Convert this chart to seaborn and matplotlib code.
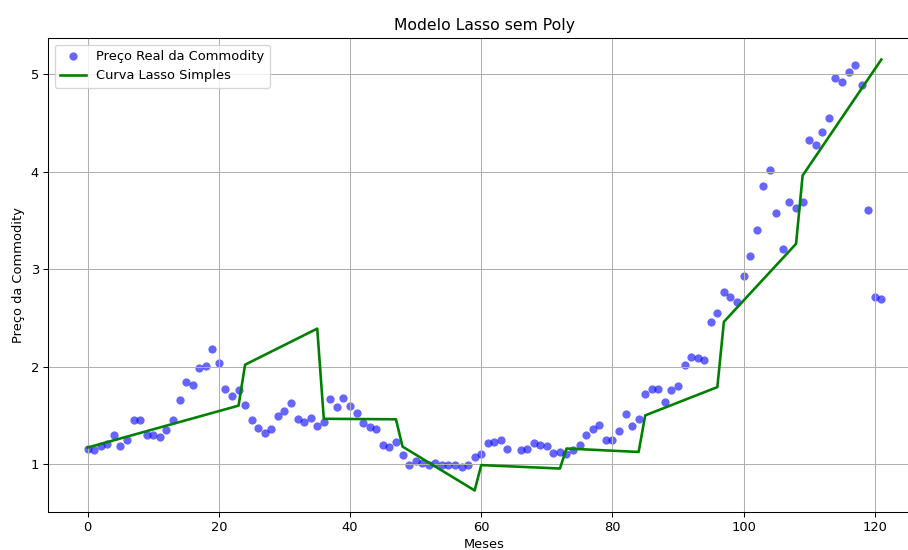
import matplotlib
matplotlib.use("Agg")
import matplotlib.pyplot as plt
import seaborn as sns
import numpy as np

months = list(range(0, 65)) + list(range(66, 122))
prices = [
    1.16, 1.15, 1.19, 1.21, 1.30, 1.19, 1.25, 1.455, 1.455, 1.30,
    1.30, 1.28, 1.35, 1.45, 1.66, 1.84, 1.81, 1.99, 2.01, 2.18,
    2.035, 1.77, 1.70, 1.76, 1.61, 1.45, 1.37, 1.32, 1.36, 1.49,
    1.55, 1.63, 1.465, 1.435, 1.475, 1.39, 1.435, 1.67, 1.59, 1.675,
    1.60, 1.52, 1.42, 1.38, 1.36, 1.20, 1.18, 1.23, 1.09, 0.99,
    1.03, 1.01, 0.99, 1.01, 0.99, 0.99, 0.99, 0.97, 0.99, 1.07,
    1.10, 1.22, 1.23, 1.25, 1.16,
    1.14, 1.16, 1.22, 1.20, 1.19, 1.11, 1.12, 1.10, 1.14,
    1.20, 1.30, 1.36, 1.40, 1.25, 1.25, 1.34, 1.51, 1.39, 1.465,
    1.72, 1.77, 1.77, 1.635, 1.765, 1.80, 2.02, 2.10, 2.09, 2.07,
    2.46, 2.55, 2.765, 2.71, 2.66, 2.93, 3.14, 3.40, 3.85, 4.02,
    3.58, 3.21, 3.69, 3.63, 3.69, 4.32, 4.27, 4.41, 4.55, 4.965,
    4.915, 5.02, 5.09, 4.89, 3.61, 2.71, 2.69,
]

lasso_x = [0, 23, 24, 35, 36, 47, 48, 59, 60, 72, 73, 84, 85, 96, 97, 108, 109, 121]
lasso_y = [1.17, 1.60, 2.02, 2.39, 1.465, 1.46, 1.18, 0.73, 0.99, 0.955,
           1.16, 1.125, 1.50, 1.79, 2.46, 3.26, 3.96, 5.15]

DPI = 94
fig = plt.figure(figsize=(908 / DPI, 550 / DPI), dpi=DPI)
ax = fig.add_axes([48 / 908, 1 - 512 / 550, 873 / 908, 474 / 550])

sns.scatterplot(x=months, y=prices, color="blue", alpha=0.6, s=40,
                linewidth=0, label="Preço Real da Commodity", ax=ax)
sns.lineplot(x=lasso_x, y=lasso_y, color="green", linewidth=2,
             estimator=None, sort=False, label="Curva Lasso Simples", ax=ax)

ax.set_title("Modelo Lasso sem Poly")
ax.set_xlabel("Meses", labelpad=3)
ax.set_ylabel("Preço da Commodity")
ax.grid(True)
ax.legend(loc="upper left")

fig.savefig("out.png", dpi=DPI)
